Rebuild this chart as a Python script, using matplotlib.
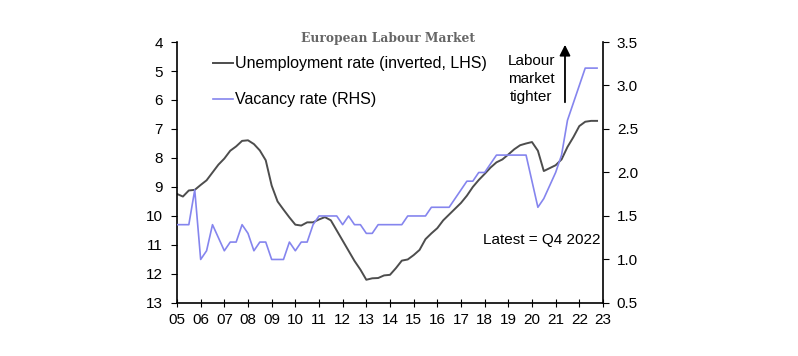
import numpy as np
import matplotlib.pyplot as plt

# Quarterly data, 2005 Q1 - 2022 Q4
unemp = [9.24, 9.33, 9.12, 9.1, 8.93, 8.77, 8.5, 8.23, 8.02, 7.75, 7.6, 7.41,
         7.39, 7.52, 7.74, 8.08, 8.95, 9.5, 9.78, 10.05, 10.3, 10.33, 10.22, 10.22,
         10.12, 10.04, 10.15, 10.5, 10.85, 11.2, 11.55, 11.85, 12.2, 12.15, 12.14, 12.05,
         12.03, 11.8, 11.54, 11.5, 11.35, 11.17, 10.8, 10.6, 10.42, 10.15, 9.95, 9.75,
         9.55, 9.3, 9.0, 8.76, 8.55, 8.33, 8.15, 8.05, 7.88, 7.7, 7.56, 7.5,
         7.45, 7.75, 8.45, 8.35, 8.25, 8.05, 7.62, 7.28, 6.9, 6.75, 6.72, 6.72]
vacancy = [1.4, 1.4, 1.4, 1.8, 1.0, 1.1, 1.4, 1.25, 1.1, 1.2, 1.2, 1.4,
           1.3, 1.1, 1.2, 1.2, 1.0, 1.0, 1.0, 1.2, 1.1, 1.2, 1.2, 1.4,
           1.5, 1.5, 1.5, 1.5, 1.4, 1.5, 1.4, 1.4, 1.3, 1.3, 1.4, 1.4,
           1.4, 1.4, 1.4, 1.5, 1.5, 1.5, 1.5, 1.6, 1.6, 1.6, 1.6, 1.7,
           1.8, 1.9, 1.9, 2.0, 2.0, 2.1, 2.2, 2.2, 2.2, 2.2, 2.2, 2.2,
           1.9, 1.6, 1.7, 1.85, 2.0, 2.2, 2.6, 2.8, 3.0, 3.2, 3.2, 3.2]
t = 2005 + np.arange(len(unemp)) / 4

years = np.arange(2005, 2024)
year_labels = [f"{y % 100:02d}" for y in years]

plt.rcParams['font.family'] = ['Liberation Sans', 'DejaVu Sans']

fig = plt.figure(figsize=(7.98, 3.56), dpi=100)
ax = fig.add_axes([0.2218, 0.149, 0.5338, 0.733])
ax2 = ax.twinx()

l1, = ax.plot(t, unemp, color="#4d4d4d", lw=1.4, label="Unemployment rate (inverted, LHS)")
l2, = ax2.plot(t, vacancy, color="#8585ee", lw=1.2, label="Vacancy rate (RHS)")

ax.set_ylim(13, 4)
ax.set_yticks(range(4, 14))
ax2.set_ylim(0.5, 3.5)
ax2.set_yticks(np.arange(0.5, 3.51, 0.5))
ax2.set_yticklabels([f"{v:.1f}" for v in np.arange(0.5, 3.51, 0.5)])
ax.set_xlim(2005, 2023)
ax.set_xticks(years)
ax.set_xticklabels(year_labels)

for a in (ax, ax2):
    a.spines['top'].set_visible(False)
    for s in a.spines.values():
        s.set_linewidth(1.2)
ax.spines['right'].set_visible(False)
ax2.spines['left'].set_visible(False)
ax2.spines['bottom'].set_visible(False)

ax.tick_params(axis="y", direction="out", length=4, labelsize=11, pad=6)
ax.tick_params(axis="x", direction="inout", length=6, labelsize=11, pad=4)
ax2.tick_params(axis="y", direction="out", length=4, labelsize=11, pad=6)

ax.legend(handles=[l1, l2], loc="upper left", bbox_to_anchor=(0.05, 1.0),
          frameon=False, prop={"size": 11.5}, handlelength=1.3, handletextpad=0.1,
          labelspacing=1.3)

fig.text(0.486, 0.893, "European Labour Market", ha="center", va="center",
         family="DejaVu Serif", fontsize=8.8, color="#666666", fontweight="bold")

ax.text(0.995, 0.24, "Latest = Q4 2022", transform=ax.transAxes,
        ha="right", va="center", fontsize=11)
ax.text(0.666, 0.778, "Labour\nmarket\ntighter", transform=fig.transFigure,
        ha="center", va="center", fontsize=11, linespacing=1.35)
ax.annotate("", xy=(0.708, 0.882), xytext=(0.708, 0.705), xycoords="figure fraction",
            arrowprops=dict(arrowstyle="-|>", color="black", lw=1.3,
                            mutation_scale=16))

plt.savefig("out.png", dpi=100)
